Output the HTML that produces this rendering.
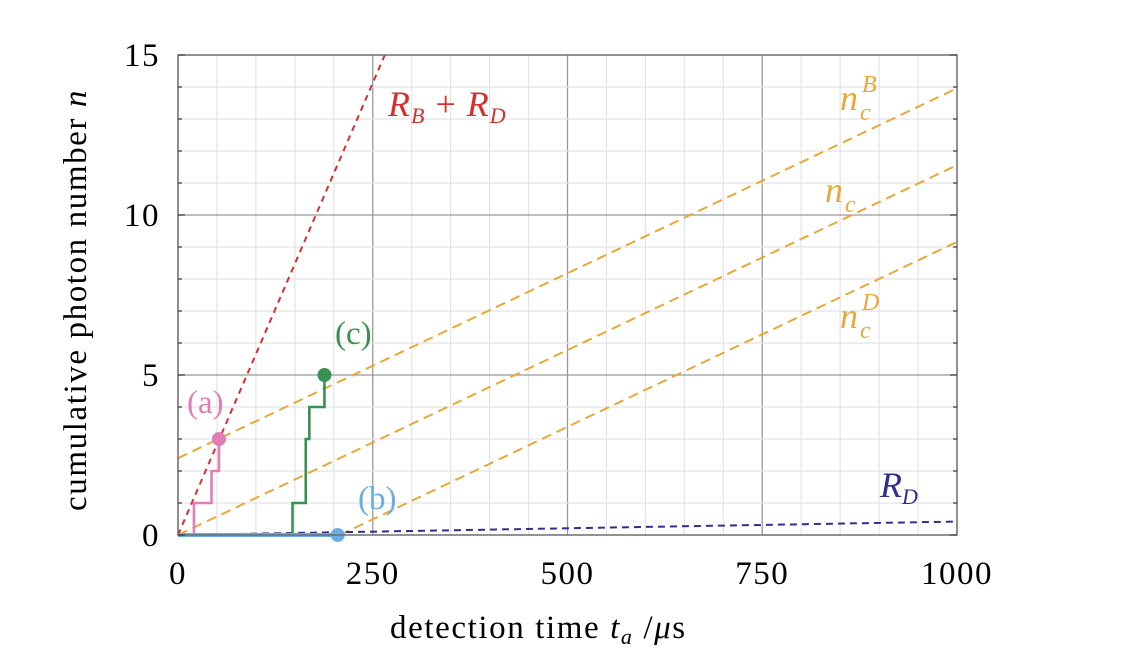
<!DOCTYPE html>
<html><head><meta charset="utf-8"><style>
body{margin:0;background:#fff}
svg text{font-family:"Liberation Serif",serif}
</style></head><body>
<svg id="chart" width="1145" height="660" xmlns="http://www.w3.org/2000/svg">
<g id="grid"></g>
<g id="series"></g>
<g id="axes"></g>
<text x="390" y="638" font-size="33" letter-spacing="1.6">detection time <tspan font-style="italic">t</tspan><tspan font-style="italic" font-size="22" dy="6">a</tspan><tspan dy="-6">  /</tspan><tspan font-style="italic">μ</tspan>s</text>
<text transform="translate(86,300) rotate(-90)" text-anchor="middle" font-size="33" letter-spacing="1.6">cumulative photon number <tspan font-style="italic">n</tspan></text>
<text x="388" y="116" font-size="36" fill="#d62f2f" font-style="italic" letter-spacing="1">R<tspan font-size="22" dy="7">B</tspan><tspan dy="-7" font-style="normal"> + </tspan>R<tspan font-size="22" dy="7">D</tspan></text>
<text x="880" y="497" font-size="36" fill="#2e2f8f" font-style="italic">R<tspan font-size="22" dy="7">D</tspan></text>
<g fill="#e8a838" font-style="italic">
<text x="840" y="110" font-size="36">n</text><text x="860" y="120" font-size="24">c</text><text x="862" y="92" font-size="24">B</text></g>
<g fill="#e8a838" font-style="italic">
<text x="825" y="202" font-size="36">n</text><text x="845" y="212" font-size="24">c</text></g>
<g fill="#e8a838" font-style="italic">
<text x="840" y="328" font-size="36">n</text><text x="860" y="338" font-size="24">c</text><text x="862" y="310" font-size="24">D</text></g>
<text x="187" y="413" font-size="33" fill="#e07fb5">(a)</text>
<text x="335" y="344" font-size="33" fill="#3a9050">(c)</text>
<text x="358" y="509" font-size="33" fill="#6aaee0">(b)</text>
</svg>
<script>
const xTicks=[0,250,500,750,1000];
const yTicks=[0,5,10,15];
const slope=0.01156;
const thresholdIntercepts=[2.4,0,-2.4];
const rbrdSlope=0.0565;
const rdEnd=0.42;
const traceA_t=[0,20.5,43,52.6];
const traceA_n=[0,1,2,3];
const traceC_t=[0,147,164,164,168.6,188];
const traceC_n=[0,1,2,3,4,5];
const traceB_t=[0,205];
const traceB_n=[0,0];
const X=t=>178+t*0.779, Y=n=>535-n*32;
const NS="http://www.w3.org/2000/svg";
function mk(p,tag,a){const e=document.createElementNS(NS,tag);for(const k in a)e.setAttribute(k,a[k]);document.getElementById(p).appendChild(e);return e;}
for(let t=0;t<=1000;t+=50){const l=mk('grid','line',{x1:X(t),x2:X(t),y1:Y(0),y2:Y(15),stroke:t%250==0?'#999':'#e4e4e4','stroke-width':t%250==0?1.3:1.2});

}
for(let n=0;n<=15;n++){const l=mk('grid','line',{x1:X(0),x2:X(1000),y1:Y(n),y2:Y(n),stroke:n%5==0?'#999':'#e4e4e4','stroke-width':n%5==0?1.3:1.2});

}
const fr=mk('axes','rect',{x:X(0),y:Y(15),width:X(1000)-X(0),height:Y(0)-Y(15),fill:'none',stroke:'#666','stroke-width':1.3});


for(let n=0;n<=15;n++){const l=mk('axes','line',{x1:X(0),x2:X(0)+(n%5==0?7:4),y1:Y(n),y2:Y(n),stroke:'#333','stroke-width':1.2});


const r=mk('axes','line',{x1:X(1000),x2:X(1000)-(n%5==0?7:4),y1:Y(n),y2:Y(n),stroke:'#333','stroke-width':1.2});

}
xTicks.forEach(t=>{const e=mk('axes','text',{x:X(t),y:584,'text-anchor':'middle','font-size':33,'letter-spacing':1.5});e.textContent=t;

});
yTicks.forEach(n=>{const e=mk('axes','text',{x:160,y:Y(n)+11,'text-anchor':'end','font-size':33,'letter-spacing':1.5});e.textContent=n;

});
thresholdIntercepts.forEach((b,i)=>{const t0=b<0?-b/slope:0;const l=mk('series','line',{x1:X(t0),y1:Y(b+slope*t0),x2:X(1000),y2:Y(b+slope*1000),stroke:'#e8a838','stroke-width':2,'stroke-dasharray':'10,6'});

});
const tEnd=15/rbrdSlope;
const rb=mk('series','line',{x1:X(0),y1:Y(0),x2:X(tEnd),y2:Y(15),stroke:'#d62f2f','stroke-width':2,'stroke-dasharray':'6,5'});


const rd=mk('series','line',{x1:X(0),y1:Y(0),x2:X(1000),y2:Y(rdEnd),stroke:'#2e2f8f','stroke-width':2,'stroke-dasharray':'7,5'});


function trace(ts,ns,col,name){let d='M'+X(ts[0])+','+Y(ns[0]);for(let i=1;i<ts.length;i++){d+=' H'+X(ts[i])+' V'+Y(ns[i]);}
const p=mk('series','path',{d:d,fill:'none',stroke:col,'stroke-width':name=='trace-b'?4:2.6});


const c=mk('series','circle',{cx:X(ts[ts.length-1]),cy:Y(ns[ns.length-1]),r:7,fill:col});

}
trace(traceA_t,traceA_n,'#e07fb5','trace-a');
trace(traceC_t,traceC_n,'#3a9050','trace-c');
trace(traceB_t,traceB_n,'#6aaee0','trace-b');
</script>
</body></html>
